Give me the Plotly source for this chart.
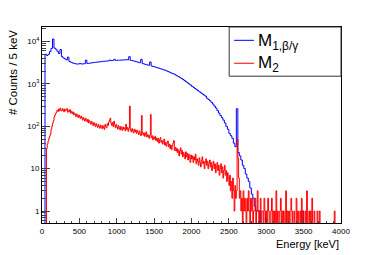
import numpy as np
import plotly.graph_objects as go

# Histograms; values are counts per 5 keV.
# M1 is displayed in 20 keV wide bins, M2 (noisier) in 10 keV wide bins.
m1_bin_edges_kev = list(range(0, 4001, 20))
m2_bin_edges_kev = list(range(0, 4001, 10))

m1_counts = [
    0, 0, 5000, 4700, 5000, 5800, 6900, 11500, 7000, 6600,
    5900, 5200, 6500, 4400, 4100, 3900, 3700, 4300, 3400, 3250,
    3150, 3050, 3000, 2950, 2950, 3050, 2950, 2980, 3000, 3650,
    3050, 3080, 3100, 3150, 3200, 3220, 3250, 3300, 3320, 3350,
    3400, 3420, 3450, 3480, 3500, 3650, 3550, 3560, 3800, 3600,
    3620, 3640, 3650, 3660, 3680, 3700, 3750, 3680, 4400, 3600,
    3550, 3480, 3400, 3330, 3250, 3170, 3800, 3020, 2950, 2880,
    2820, 2760, 3300, 2650, 2580, 2520, 2460, 2400, 2340, 2280,
    2220, 2160, 2100, 2030, 1960, 1890, 1820, 1750, 1720, 1620,
    1550, 1480, 1410, 1340, 1270, 1200, 1130, 1060, 1000, 940,
    880, 830, 780, 735, 690, 650, 615, 580, 545, 515,
    460, 430, 400, 370, 335, 300, 270, 235, 205, 180,
    160, 140, 120, 100, 85, 68, 60, 52, 40, 33,
    260, 24, 20, 16, 12, 10, 7.5, 6, 5, 3.5,
    2.5, 2, 1.3, 1, 1, 1, 0, 0, 0, 0,
    0, 0, 0, 0, 0, 0, 0, 0, 0, 0,
    0, 0, 0, 0, 0, 0, 0, 0, 0, 0,
    0, 0, 0, 0, 1, 0, 0, 0, 0, 0,
    0, 0, 0, 0, 0, 0, 0, 0, 0, 0,
    0, 0, 0, 0, 0, 0, 0, 0, 0, 0,
]

m2_counts = [
    0, 0, 0, 0, 0, 0, 30, 38, 45, 52,
    58, 66, 85, 100, 118, 135, 165, 185, 200, 215,
    240, 225, 255, 230, 270, 240, 230, 262, 245, 220,
    255, 232, 248, 262, 215, 238, 222, 248, 205, 228,
    200, 218, 185, 205, 192, 170, 196, 178, 160, 184,
    168, 152, 175, 158, 140, 162, 147, 133, 155, 142,
    128, 146, 120, 136, 125, 112, 131, 118, 104, 122,
    110, 98, 116, 104, 94, 111, 100, 90, 107, 96,
    88, 104, 94, 84, 110, 98, 92, 115, 104, 125,
    140, 155, 118, 105, 122, 98, 132, 108, 92, 110,
    96, 86, 104, 92, 82, 99, 88, 80, 96, 86,
    92, 78, 112, 84, 94, 76, 90, 300, 82, 74,
    88, 78, 70, 86, 74, 82, 68, 80, 72, 64,
    78, 68, 60, 180, 72, 62, 70, 58, 66, 74,
    56, 64, 58, 52, 62, 190, 54, 60, 48, 56,
    50, 58, 46, 53, 44, 52, 40, 48, 54, 42,
    46, 38, 44, 50, 36, 42, 34, 40, 45, 33,
    38, 30, 36, 28, 34, 40, 46, 27, 32, 26,
    30, 24, 28, 20, 26, 31, 22, 27, 19, 24,
    21, 17, 25, 19, 23, 16, 22, 18, 14, 21,
    17, 20, 14, 19, 16, 22, 13, 17, 15, 12,
    18, 14, 11, 16, 19, 13, 15, 10, 14, 17,
    12, 15, 10, 13, 16, 11, 14, 9, 12, 15,
    10, 13, 8, 11, 14, 9, 12, 7, 10, 13,
    8, 11, 6, 9, 12, 7, 9, 5, 8, 6,
    4, 7, 3, 5, 2, 6, 3, 1, 4, 2,
    3, 50, 18, 6, 2, 3, 1, 2, 0, 3,
    1, 2, 1, 0, 2, 1, 3, 1, 0, 2,
    1, 2, 0, 1, 1, 2, 0, 1, 3, 1,
    0, 1, 2, 0, 1, 1, 0, 2, 1, 0,
    1, 0, 2, 1, 0, 0, 1, 2, 0, 1,
    0, 1, 0, 3, 0, 1, 0, 0, 1, 2,
    0, 1, 0, 1, 0, 0, 3, 0, 1, 0,
    1, 0, 0, 2, 1, 0, 0, 1, 0, 0,
    2, 0, 1, 0, 0, 1, 0, 2, 0, 1,
    0, 0, 1, 0, 3, 0, 0, 1, 0, 1,
    0, 2, 0, 0, 1, 0, 0, 0, 1, 0,
    0, 1, 0, 0, 0, 0, 0, 0, 0, 0,
    0, 0, 0, 0, 0, 0, 0, 0, 0, 0,
    0, 1, 0, 0, 0, 0, 0, 0, 0, 0,
]

series_names = ["M<sub>1,β/γ</sub>", "M<sub>2</sub>"]
series_colors = ["#0000ff", "#ff0000"]

y_tick_values = [1, 10, 100, 1000, 10000]
y_tick_labels = ["1", "10", "10<sup>2</sup>", "10<sup>3</sup>", "10<sup>4</sup>"]
x_tick_values = [0, 500, 1000, 1500, 2000, 2500, 3000, 3500, 4000]

FONT = "Liberation Sans, Arial, Helvetica, sans-serif"

# page has an 8px body margin: figure is shrunk so the frame lands where the reference has it
FIG_W, FIG_H = 366, 247
PLOT_L, PLOT_R, PLOT_T, PLOT_B = 34, 33, 19, 32


def step_y(counts):
    # empty bins drop to the bottom of the frame, as in a ROOT histogram
    arr = np.asarray(counts, dtype=float)
    arr = np.where(arr > 0, arr, 0.1)
    return np.append(arr, arr[-1])


fig = go.Figure()
for name, edges, counts, color in zip(series_names, [m1_bin_edges_kev, m2_bin_edges_kev],
                                      [m1_counts, m2_counts], series_colors):
    fig.add_trace(go.Scatter(
        x=edges, y=step_y(counts), mode="lines", name=name,
        line=dict(color=color, width=1, shape="hv"), showlegend=False,
    ))

axis_common = dict(
    showgrid=False, zeroline=False, showline=True, linecolor="black", linewidth=1,
    mirror=True, ticks="inside", tickcolor="#444", tickfont=dict(family=FONT, size=8, color="black"),
)

fig.update_xaxes(
    range=[0, 4000], tickvals=x_tick_values, ticklen=5,
    minor=dict(ticks="inside", dtick=100, ticklen=2.5, tickcolor="#444"),
    **axis_common,
)
fig.update_yaxes(
    type="log", range=[-0.283, 4.344], tickvals=y_tick_values, ticktext=y_tick_labels,
    ticklen=8, minor=dict(ticks="inside", dtick="D1", ticklen=4, tickcolor="#444"),
    **axis_common,
)

fig.add_annotation(
    text="# Counts / 5 keV", xref="paper", yref="paper", x=-0.097, y=0.77,
    xanchor="center", yanchor="middle", textangle=-90, showarrow=False,
    font=dict(family=FONT, size=11.5, color="black"),
)
fig.add_annotation(
    text="Energy [keV]", xref="paper", yref="paper", x=1.0, y=-0.105,
    xanchor="right", yanchor="middle", showarrow=False,
    font=dict(family=FONT, size=11, color="black"),
)

# legend box drawn as in the reference (ROOT TLegend)
leg_x0, leg_x1, leg_y0, leg_y1 = 0.626, 1.0, 0.749, 1.0
fig.add_shape(type="rect", xref="paper", yref="paper", x0=leg_x0, x1=leg_x1, y0=leg_y0, y1=leg_y1,
              line=dict(color="#333", width=1), fillcolor="white", layer="above")
entry_y = [0.932, 0.815]
text_y = [0.925, 0.81]
for name, color, ly, ty in zip(series_names, series_colors, entry_y, text_y):
    fig.add_shape(type="line", xref="paper", yref="paper", x0=0.6425, x1=0.709, y0=ly, y1=ly,
                  line=dict(color=color, width=1), layer="above")
    fig.add_annotation(text=name, xref="paper", yref="paper", x=0.717, y=ty,
                       xanchor="left", yanchor="middle", showarrow=False,
                       font=dict(family=FONT, size=17, color="black"))

fig.update_layout(
    width=FIG_W, height=FIG_H,
    margin=dict(l=PLOT_L, r=PLOT_R, t=PLOT_T, b=PLOT_B),
    paper_bgcolor="white", plot_bgcolor="white",
    font=dict(family=FONT, color="black"),
    showlegend=False,
)

fig.write_html("out.html")
